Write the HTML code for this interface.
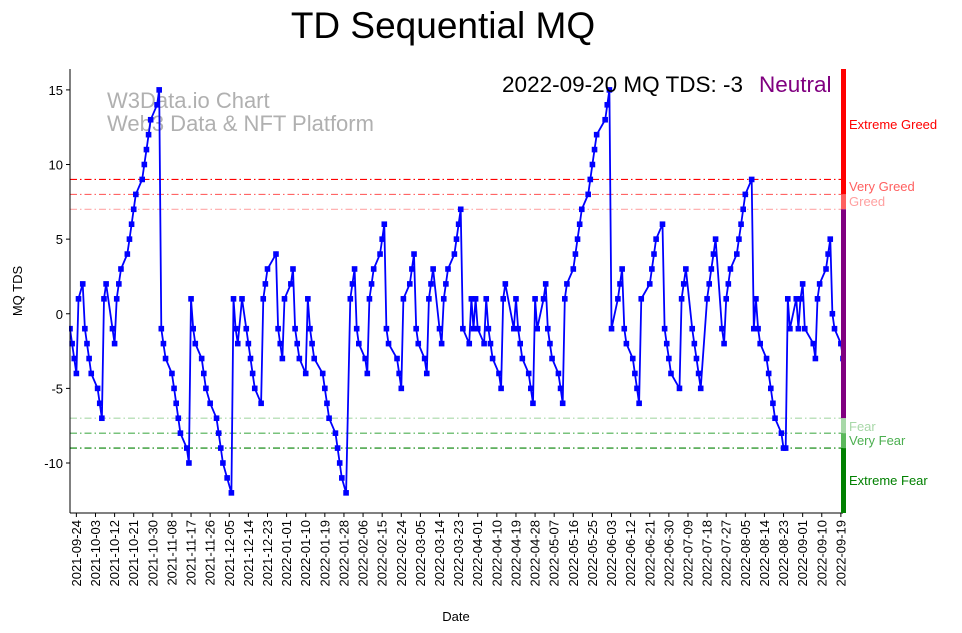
<!DOCTYPE html>
<html><head><meta charset="utf-8"><style>
body{margin:0;background:#fff;}
svg{display:block;font-family:"Liberation Sans","DejaVu Sans",sans-serif;}
</style></head><body>
<svg id="chart" width="962" height="633"></svg>
<script>
const dayOffsets=[0,1,2,3,4,6,7,8,9,10,13,14,15,16,17,20,21,22,23,24,27,28,29,30,31,34,35,36,37,38,41,42,43,44,45,48,49,50,51,52,55,56,57,58,59,
62,63,64,66,69,70,71,72,74,76,77,78,79,81,83,84,85,86,87,90,91,92,93,97,98,99,100,101,104,105,106,107,108,111,112,113,114,115,119,120,121,122,
125,126,127,128,130,132,133,134,135,136,139,140,141,142,143,146,147,148,149,150,154,155,156,157,160,161,162,163,164,167,168,169,170,171,174,175,176,177,178,181,182,183,184,
185,188,189,190,191,192,195,196,197,198,199,202,203,204,205,209,210,211,212,213,216,217,218,219,220,223,224,225,226,227,230,231,232,233,234,237,238,239,240,241,244,245,
246,247,248,252,253,254,255,258,259,260,261,262,265,266,267,268,269,273,274,275,276,279,280,281,282,283,287,288,289,290,293,294,295,296,297,300,301,302,303,304,
307,308,309,310,311,314,315,316,317,318,321,322,323,324,325,328,329,330,331,332,335,336,337,338,339,342,343,344,345,346,350,351,352,353,356,357,358,359,360,363,364];
const tdsValues=[-1,-2,-3,-4,1,2,-1,-2,-3,-4,-5,-6,-7,1,2,-1,-2,1,2,3,4,5,6,7,8,9,10,11,12,13,14,15,-1,-2,-3,-4,-5,-6,-7,-8,-9,-10,1,-1,-2,
-3,-4,-5,-6,-7,-8,-9,-10,-11,-12,1,-1,-2,1,-1,-2,-3,-4,-5,-6,1,2,3,4,-1,-2,-3,1,2,3,-1,-2,-3,-4,1,-1,-2,-3,-4,-5,-6,-7,
-8,-9,-10,-11,-12,1,2,3,-1,-2,-3,-4,1,2,3,4,5,6,-1,-2,-3,-4,-5,1,2,3,4,-1,-2,-3,-4,1,2,3,-1,-2,1,2,3,4,5,6,7,
-1,-2,1,-1,1,-1,-2,1,-1,-2,-3,-4,-5,1,2,-1,1,-1,-2,-3,-4,-5,-6,1,-1,1,2,-1,-2,-3,-4,-5,-6,1,2,3,4,5,6,7,8,9,
10,11,12,13,14,15,-1,1,2,3,-1,-2,-3,-4,-5,-6,1,2,3,4,5,6,-1,-2,-3,-4,-5,1,2,3,-1,-2,-3,-4,-5,1,2,3,4,5,
-1,-2,1,2,3,4,5,6,7,8,9,-1,1,-1,-2,-3,-4,-5,-6,-7,-8,-9,-9,1,-1,1,-1,1,2,-1,-2,-3,1,2,3,4,5,0,-1,-2,-3];
const yTicks=[15,10,5,0,-5,-10];
const xTickDays=[3,12,21,30,39,48,57,66,75,84,93,102,111,120,129,138,147,156,165,174,183,192,201,210,219,228,237,246,255,264,273,282,291,300,309,318,327,336,345,354,363];
const xTickLabels=["2021-09-24","2021-10-03","2021-10-12","2021-10-21","2021-10-30","2021-11-08","2021-11-17","2021-11-26","2021-12-05","2021-12-14","2021-12-23","2022-01-01","2022-01-10","2022-01-19","2022-01-28","2022-02-06","2022-02-15","2022-02-24","2022-03-05","2022-03-14","2022-03-23","2022-04-01","2022-04-10","2022-04-19","2022-04-28","2022-05-07","2022-05-16","2022-05-25","2022-06-03","2022-06-12","2022-06-21","2022-06-30","2022-07-09","2022-07-18","2022-07-27","2022-08-05","2022-08-14","2022-08-23","2022-09-01","2022-09-10","2022-09-19"];
const levelValues=[9,8,7,-7,-8,-9];
const levelNames=["Extreme Greed","Very Greed","Greed","Fear","Very Fear","Extreme Fear"];

const NS="http://www.w3.org/2000/svg";
const svg=document.getElementById('chart');
const L=70,R=843,T=69,B=513,DMAX=364,YMIN=-13.35,YMAX=16.4;
const xs=d=>L+d*(R-L)/DMAX;
const ys=v=>B-(v-YMIN)*(B-T)/(YMAX-YMIN);
function mk(tag,attrs,parent){const e=document.createElementNS(NS,tag);for(const k in attrs)e.setAttribute(k,attrs[k]);(parent||svg).appendChild(e);return e;}

let t=mk('text',{x:443,y:38,'text-anchor':'middle','font-size':37,fill:'#000'});t.textContent='TD Sequential MQ';



// level lines
const levelColors=["#ff0000","#ff5050","#ffa8a8","#a8d8a8","#4caf50","#008000"];
levelValues.forEach((v,i)=>{
  const ln=mk('line',{x1:L,x2:R,y1:ys(v),y2:ys(v),stroke:levelColors[i],'stroke-width':1.1,'stroke-dasharray':'7,3,1.5,3'});
  
  
});

// watermark
t=mk('text',{x:107,y:108,'font-size':22,fill:'#b0b0b0'});t.textContent='W3Data.io Chart';


t=mk('text',{x:107,y:131,'font-size':22,fill:'#b0b0b0'});t.textContent='Web3 Data & NFT Platform';



// series
let pts=dayOffsets.map((d,i)=>xs(d).toFixed(1)+','+ys(tdsValues[i]).toFixed(1)).join(' ');
const pl=mk('polyline',{points:pts,fill:'none',stroke:'#0000ff','stroke-width':1.8});


dayOffsets.forEach((d,i)=>{
  const m=mk('rect',{x:xs(d)-2.8,y:ys(tdsValues[i])-2.8,width:5.6,height:5.6,fill:'#0000ff'});
  
  
});

// cover left overflow
mk('rect',{x:0,y:T,width:L-1,height:B-T,fill:'#fff'});

// axes
let ax=mk('line',{x1:L,x2:L,y1:T,y2:B,stroke:'#000','stroke-width':1});


ax=mk('line',{x1:L,x2:R,y1:B,y2:B,stroke:'#000','stroke-width':1});



yTicks.forEach(v=>{
  mk('line',{x1:L-4,x2:L,y1:ys(v),y2:ys(v),stroke:'#000'});
  const tl=mk('text',{x:L-7,y:ys(v)+5,'text-anchor':'end','font-size':13,fill:'#000'});tl.textContent=v;
  
  
});
xTickDays.forEach((d,i)=>{
  const x=xs(d);
  mk('line',{x1:x,x2:x,y1:B,y2:B+4,stroke:'#000'});
  const tl=mk('text',{x:x+4.5,y:B+7,'text-anchor':'end','font-size':13,fill:'#000',transform:`rotate(-90 ${x+4.5} ${B+7})`});
  tl.textContent=xTickLabels[i];
  
  
});
t=mk('text',{x:456,y:621,'text-anchor':'middle','font-size':13,fill:'#000'});t.textContent='Date';


t=mk('text',{x:22,y:291,'text-anchor':'middle','font-size':13,fill:'#000',transform:'rotate(-90 22 291)'});t.textContent='MQ TDS';



// status text
t=mk('text',{x:743,y:92,'text-anchor':'end','font-size':22.5,fill:'#000'});t.textContent='2022-09-20 MQ TDS: -3';


t=mk('text',{x:759,y:92,'font-size':22.5,fill:'#800080'});t.textContent='Neutral';



// right sentiment bar
const bandTops=[YMAX,8,7,-7,-8,-9];
const bandBottoms=[8,7,-7,-8,-9,YMIN];
const bandColors=["#ff0000","#ff6060","#800080","#a8d8a8","#5cb85c","#008000"];
bandTops.forEach((v,i)=>{
  const b=mk('rect',{x:R-2,y:ys(v),width:5,height:ys(bandBottoms[i])-ys(v),fill:bandColors[i]});
  
  
});
const labelY=[125,187,202,427,441,481];
const labelColors=["#ff0000","#ff6060","#ffa0a0","#a8d8a8","#4caf50","#008000"];
levelNames.forEach((n,i)=>{
  const tl=mk('text',{x:849,y:labelY[i]+4,'font-size':13,fill:labelColors[i]});tl.textContent=n;
  
  
});
</script>
</body></html>
